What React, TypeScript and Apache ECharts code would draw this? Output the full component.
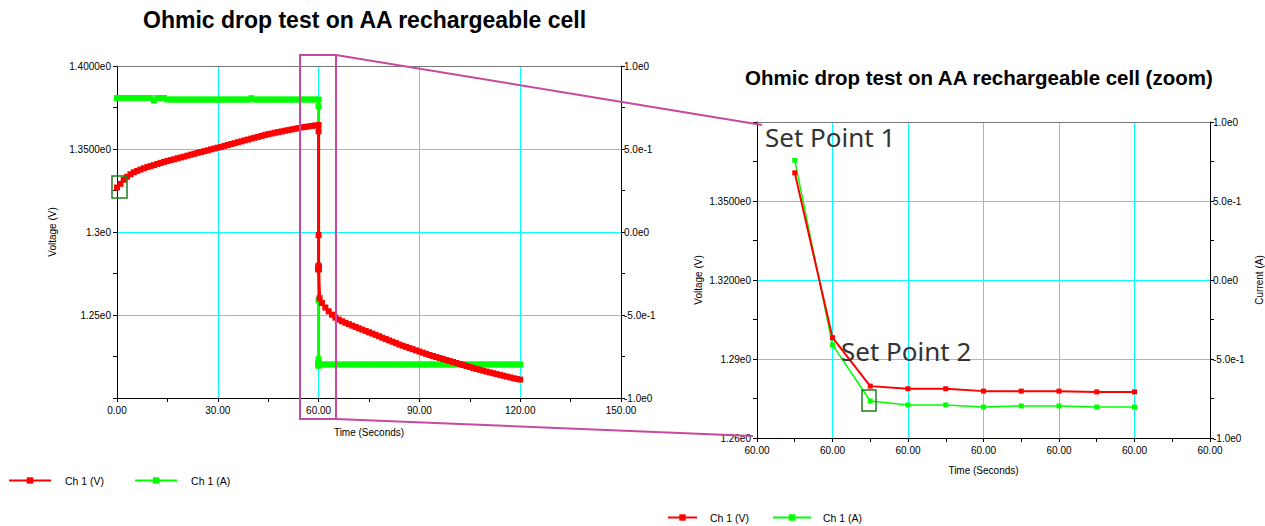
import React, { useEffect, useRef } from 'react';
import * as echarts from 'echarts';

// ---------- data ----------
// Voltage (V) sampled every 1 s from t = 0 s to t = 60 s (before the current step)
const PRE_VOLTAGE = [
  1.3268, 1.3290, 1.3315, 1.3333, 1.3348, 1.3360, 1.3368, 1.3376, 1.3384, 1.3391,
  1.3397, 1.3403, 1.3410, 1.3416, 1.3422, 1.3428, 1.3433, 1.3438, 1.3444, 1.3449,
  1.3454, 1.3460, 1.3466, 1.3471, 1.3477, 1.3482, 1.3487, 1.3492, 1.3498, 1.3503,
  1.3508, 1.3513, 1.3519, 1.3524, 1.3530, 1.3535, 1.3541, 1.3546, 1.3552, 1.3557,
  1.3563, 1.3568, 1.3573, 1.3579, 1.3584, 1.3589, 1.3593, 1.3598, 1.3602, 1.3606,
  1.3610, 1.3614, 1.3618, 1.3622, 1.3626, 1.3630, 1.3633, 1.3636, 1.3639, 1.3642,
  1.3645,
];
// Current (A) sampled every 1 s from t = 0 s to t = 60 s
const PRE_CURRENT = [
  0.807, 0.807, 0.807, 0.807, 0.807, 0.807, 0.807, 0.807, 0.807, 0.807,
  0.807, 0.792, 0.807, 0.807, 0.807, 0.798, 0.798, 0.798, 0.798, 0.798,
  0.798, 0.798, 0.798, 0.798, 0.798, 0.798, 0.798, 0.798, 0.798, 0.798,
  0.798, 0.798, 0.798, 0.798, 0.798, 0.798, 0.798, 0.798, 0.798, 0.798,
  0.806, 0.798, 0.798, 0.798, 0.798, 0.798, 0.798, 0.798, 0.798, 0.798,
  0.798, 0.798, 0.798, 0.798, 0.798, 0.798, 0.798, 0.798, 0.798, 0.798,
  0.798,
];
// Points just after the step (shown enlarged in the zoom chart)
const STEP_TIME = [60.0004, 60.0008, 60.0012, 60.0016, 60.002, 60.0024, 60.0028, 60.0032, 60.0036, 60.004];
const STEP_VOLTAGE = [1.3607, 1.2981, 1.2797, 1.2787, 1.2787, 1.2778, 1.2778, 1.2778, 1.2775, 1.2775];
const STEP_CURRENT = [0.7576, -0.411, -0.766, -0.791, -0.791, -0.804, -0.797, -0.797, -0.804, -0.804];
// Relaxation point between the zoom window and the 1 s samples
const RELAX_TIME = 60.3;
const RELAX_VOLTAGE = 1.2601;
// Samples every 1 s from t = 61 s to t = 120 s (after the current step)
const POST_VOLTAGE = [
  1.2572, 1.2545, 1.2522, 1.2502, 1.2484, 1.2472, 1.2462, 1.2453, 1.2445, 1.2436,
  1.2428, 1.2420, 1.2412, 1.2404, 1.2396, 1.2388, 1.2380, 1.2372, 1.2363, 1.2355,
  1.2347, 1.2339, 1.2331, 1.2322, 1.2315, 1.2308, 1.2301, 1.2294, 1.2287, 1.2280,
  1.2273, 1.2266, 1.2259, 1.2253, 1.2247, 1.2241, 1.2235, 1.2229, 1.2223, 1.2217,
  1.2211, 1.2205, 1.2199, 1.2193, 1.2187, 1.2181, 1.2175, 1.2170, 1.2164, 1.2159,
  1.2154, 1.2149, 1.2144, 1.2139, 1.2134, 1.2129, 1.2124, 1.2119, 1.2115, 1.2111,
];
const POST_CURRENT = [
  -0.798, -0.798, -0.798, -0.798, -0.798, -0.798, -0.798, -0.798, -0.798, -0.798,
  -0.798, -0.798, -0.798, -0.798, -0.798, -0.798, -0.798, -0.798, -0.798, -0.798,
  -0.798, -0.798, -0.798, -0.798, -0.798, -0.798, -0.798, -0.798, -0.798, -0.798,
  -0.798, -0.798, -0.798, -0.798, -0.798, -0.798, -0.798, -0.798, -0.798, -0.798,
  -0.798, -0.798, -0.798, -0.798, -0.798, -0.798, -0.798, -0.798, -0.798, -0.798,
  -0.798, -0.798, -0.798, -0.798, -0.798, -0.798, -0.798, -0.798, -0.798, -0.798,
];
const PRE_START = 0;
const POST_START = 61;
const SAMPLE_STEP = 1;

// tick labels
const MAIN_VOLT_LABELS: [number, string][] = [
  [1.4, '1.4000e0'], [1.35, '1.3500e0'], [1.3, '1.3e0'], [1.25, '1.25e0'],
];
const ZOOM_VOLT_LABELS: [number, string][] = [
  [1.35, '1.3500e0'], [1.32, '1.3200e0'], [1.29, '1.29e0'], [1.26, '1.26e0'],
];
const CURRENT_LABELS: [number, string][] = [
  [1, '1.0e0'], [0.5, '5.0e-1'], [0, '0.0e0'], [-0.5, '-5.0e-1'], [-1, '-1.0e0'],
];

const TITLE_MAIN = 'Ohmic drop test on AA rechargeable cell';
const TITLE_ZOOM = 'Ohmic drop test on AA rechargeable cell (zoom)';
const NAME_V = 'Ch 1 (V)';
const NAME_A = 'Ch 1 (A)';

// ---------- helpers ----------
const lookup = (table: [number, string][]) => (v: number) => {
  const hit = table.find(([k]) => Math.abs(k - v) < 1e-6);
  return hit ? hit[1] : '';
};

const RED = '#ff0000';
const GREEN = '#00ff00';
const CYAN = '#00ffff';
const MAGENTA = '#c9489f';
const DARKGREEN = '#1f7f1f';
const FONT = '"Liberation Sans", Arial, sans-serif';

export default function App() {
  const ref = useRef<HTMLDivElement>(null);

  useEffect(() => {
    if (!ref.current) return;
    const chart = echarts.init(ref.current, null, { renderer: 'svg' });

    const mainVoltage: [number, number][] = [
      ...PRE_VOLTAGE.map((v, i) => [PRE_START + i * SAMPLE_STEP, v] as [number, number]),
      ...STEP_TIME.map((t, i) => [t, STEP_VOLTAGE[i]] as [number, number]),
      [RELAX_TIME, RELAX_VOLTAGE],
      ...POST_VOLTAGE.map((v, i) => [POST_START + i * SAMPLE_STEP, v] as [number, number]),
    ];
    const mainCurrent: [number, number][] = [
      ...PRE_CURRENT.map((v, i) => [PRE_START + i * SAMPLE_STEP, v] as [number, number]),
      ...STEP_TIME.map((t, i) => [t, STEP_CURRENT[i]] as [number, number]),
      ...POST_CURRENT.map((v, i) => [POST_START + i * SAMPLE_STEP, v] as [number, number]),
    ];
    const zoomVoltage = STEP_TIME.map((t, i) => [t, STEP_VOLTAGE[i]]);
    const zoomCurrent = STEP_TIME.map((t, i) => [t, STEP_CURRENT[i]]);

    const labelStyle = () => ({ color: '#000', fontSize: 10, fontFamily: FONT });
    const axisLine = () => ({ show: true, onZero: false, lineStyle: { color: '#000', width: 1 } });
    const tick = () => ({ show: true, length: 4, lineStyle: { color: '#000' } });
    const minorTick = () => ({ show: true, splitNumber: 2, length: 4, lineStyle: { color: '#000' } });
    const split = () => ({ show: true, showMinLine: false, showMaxLine: false, lineStyle: { color: CYAN, width: 1, type: 'solid' } });
    const noSplit = () => ({ show: false });
    const nameStyle = () => ({ color: '#000', fontSize: 10, fontFamily: FONT });
    // top border of each plot, drawn as an unlabeled top axis
    const topBorder = (gridIndex: number, min: number, max: number) => ({
      type: 'value', gridIndex, position: 'top', min, max,
      axisLine: { show: true, onZero: false, lineStyle: { color: '#777', width: 1 } },
      axisTick: { show: false }, axisLabel: { show: false }, splitLine: { show: false },
    });

    const option: any = {
      animation: false,
      backgroundColor: '#fff',
      title: [
        { text: TITLE_MAIN, left: 138, top: 3, textStyle: { fontSize: 23, fontWeight: 'bold', fontFamily: FONT, color: '#000' } },
        { text: TITLE_ZOOM, left: 740, top: 62, textStyle: { fontSize: 20.5, fontWeight: 'bold', fontFamily: FONT, color: '#000' } },
      ],
      legend: [
        {
          left: 8, top: 475, padding: 0, itemWidth: 42, itemHeight: 8, itemGap: 30,
          data: [NAME_V, NAME_A],
          textStyle: { fontSize: 10.5, fontFamily: FONT, color: '#000', padding: [0, 0, 0, 9] },
        },
        {
          left: 667, top: 512, padding: 0, itemWidth: 29, itemHeight: 8,
          data: [NAME_V],
          textStyle: { fontSize: 10.5, fontFamily: FONT, color: '#000', padding: [0, 0, 0, 8] },
        },
        {
          left: 772, top: 512, padding: 0, itemWidth: 38, itemHeight: 8,
          data: [NAME_A],
          textStyle: { fontSize: 10.5, fontFamily: FONT, color: '#000', padding: [0, 0, 0, 7] },
        },
      ],
      grid: [
        { left: 117, top: 66, width: 504, height: 332, show: false },
        { left: 757, top: 122, width: 454, height: 316, show: false },
      ],
      xAxis: [
        {
          type: 'value', gridIndex: 0, position: 'bottom', min: 0, max: 150, interval: 30,
          name: 'Time (Seconds)', nameLocation: 'middle', nameGap: 29, nameTextStyle: nameStyle(),
          axisLine: axisLine(), axisTick: tick(), minorTick: minorTick(), splitLine: split(),
          axisLabel: { ...labelStyle(), margin: 7, formatter: (v: number) => v.toFixed(2) },
        },
        {
          type: 'value', gridIndex: 1, position: 'bottom', min: 60.0, max: 60.0048, interval: 0.0008,
          name: 'Time (Seconds)', nameLocation: 'middle', nameGap: 27, nameTextStyle: nameStyle(),
          axisLine: axisLine(), axisTick: tick(), minorTick: minorTick(), splitLine: split(),
          axisLabel: { ...labelStyle(), margin: 7, formatter: (v: number) => v.toFixed(2) },
        },
        topBorder(0, 0, 150),
        topBorder(1, 60.0, 60.0048),
      ],
      yAxis: [
        {
          type: 'value', gridIndex: 0, position: 'left', min: 1.2, max: 1.4, interval: 0.05,
          name: 'Voltage (V)', nameLocation: 'middle', nameGap: 60, nameTextStyle: nameStyle(),
          axisLine: axisLine(), axisTick: tick(), minorTick: minorTick(), splitLine: split(),
          axisLabel: { ...labelStyle(), margin: 6, formatter: lookup(MAIN_VOLT_LABELS) },
        },
        {
          type: 'value', gridIndex: 0, position: 'right', min: -1, max: 1, interval: 0.5,
          axisLine: axisLine(), axisTick: tick(), minorTick: minorTick(), splitLine: noSplit(),
          axisLabel: { ...labelStyle(), margin: 3, formatter: lookup(CURRENT_LABELS) },
        },
        {
          type: 'value', gridIndex: 1, position: 'left', min: 1.26, max: 1.38, interval: 0.03,
          name: 'Voltage (V)', nameLocation: 'middle', nameGap: 54, nameTextStyle: nameStyle(),
          axisLine: axisLine(), axisTick: tick(), minorTick: minorTick(), splitLine: split(),
          axisLabel: { ...labelStyle(), margin: 6, formatter: lookup(ZOOM_VOLT_LABELS) },
        },
        {
          type: 'value', gridIndex: 1, position: 'right', min: -1, max: 1, interval: 0.5,
          name: 'Current (A)', nameLocation: 'middle', nameGap: 44, nameTextStyle: nameStyle(),
          axisLine: axisLine(), axisTick: tick(), minorTick: minorTick(), splitLine: noSplit(),
          axisLabel: { ...labelStyle(), margin: 3, formatter: lookup(CURRENT_LABELS) },
        },
      ],
      series: [
        {
          name: NAME_V, type: 'line', xAxisIndex: 0, yAxisIndex: 0, data: mainVoltage,
          color: RED, symbol: 'rect', symbolSize: 6, showAllSymbol: true,
          lineStyle: { color: RED, width: 3 }, itemStyle: { color: RED }, z: 3,
        },
        {
          name: NAME_A, type: 'line', xAxisIndex: 0, yAxisIndex: 1, data: mainCurrent,
          color: GREEN, symbol: 'rect', symbolSize: 6, showAllSymbol: true,
          lineStyle: { color: GREEN, width: 3 }, itemStyle: { color: GREEN }, z: 2,
        },
        {
          name: NAME_V, type: 'line', xAxisIndex: 1, yAxisIndex: 2, data: zoomVoltage,
          color: RED, symbol: 'rect', symbolSize: 5, showAllSymbol: true,
          lineStyle: { color: RED, width: 2 }, itemStyle: { color: RED }, z: 3,
        },
        {
          name: NAME_A, type: 'line', xAxisIndex: 1, yAxisIndex: 3, data: zoomCurrent,
          color: GREEN, symbol: 'rect', symbolSize: 5, showAllSymbol: true,
          lineStyle: { color: GREEN, width: 1.5 }, itemStyle: { color: GREEN }, z: 2,
        },
      ],
      graphic: [
        { type: 'rect', z: 100, shape: { x: 300, y: 55, width: 36, height: 364 }, style: { fill: 'none', stroke: MAGENTA, lineWidth: 2 } },
        { type: 'line', z: 100, shape: { x1: 336, y1: 55, x2: 762, y2: 125 }, style: { stroke: MAGENTA, lineWidth: 2 } },
        { type: 'line', z: 100, shape: { x1: 336, y1: 419, x2: 753, y2: 436 }, style: { stroke: MAGENTA, lineWidth: 2 } },
        { type: 'rect', z: 100, shape: { x: 112, y: 176, width: 15, height: 22 }, style: { fill: 'none', stroke: DARKGREEN, lineWidth: 1.5 } },
        { type: 'rect', z: 100, shape: { x: 862, y: 390, width: 14, height: 21 }, style: { fill: 'none', stroke: DARKGREEN, lineWidth: 1.5 } },
        { type: 'text', z: 100, x: 765, y: 137, style: { text: 'Set Point 1', font: '26px "Noto Sans", sans-serif', fill: '#333', verticalAlign: 'middle' } },
        { type: 'text', z: 100, x: 841, y: 351, style: { text: 'Set Point 2', font: '26px "Noto Sans", sans-serif', fill: '#333', verticalAlign: 'middle' } },
      ],
    };

    chart.setOption(option);
    return () => chart.dispose();
  }, []);

  return (
    <div
      ref={ref}
      style={{ position: 'absolute', left: 0, top: 0, width: 1265, height: 526, background: '#fff' }}
    />
  );
}
